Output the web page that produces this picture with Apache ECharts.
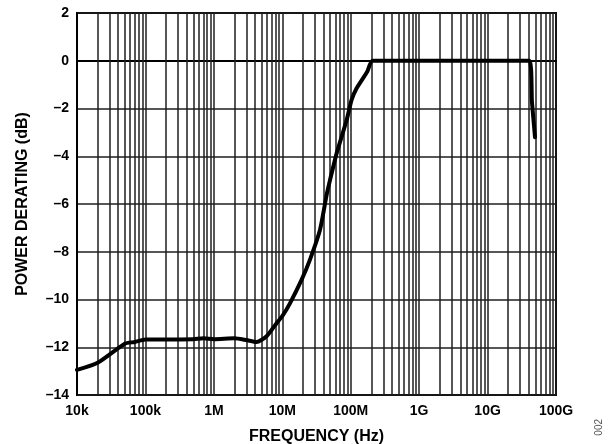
<!DOCTYPE html>
<html>
<head>
<meta charset="utf-8">
<script src="https://cdn.jsdelivr.net/npm/echarts@6/dist/echarts.min.js"></script>
<style>
  html, body { margin: 0; padding: 0; background: #fff; }
  #chart { width: 608px; height: 444px; }
</style>
</head>
<body>
<div id="chart"></div>
<script>
// Power derating versus frequency
const frequencyHz = [
  1e4, 2e4, 5e4, 7e4, 1e5, 2e5, 5e5, 7e5, 1e6, 2e6, 3e6, 4.2e6, 5.9e6, 8.3e6,
  1e7, 1.3e7, 1.92e7, 2.54e7, 3.56e7, 4.46e7, 4.98e7, 6.24e7, 8.73e7, 1.03e8,
  1.22e8, 1.75e8, 2.09e8, 4.1e10, 4.45e10, 4.6e10, 4.93e10
];
const deratingDb = [
  -12.95, -12.65, -11.85, -11.78, -11.68, -11.68, -11.66, -11.62, -11.66, -11.62, -11.70, -11.78, -11.54, -10.98,
  -10.70, -10.15, -9.17, -8.33, -7.08, -5.60, -5.00, -3.87, -2.48, -1.64,
  -1.15, -0.45, 0, 0, -1.7, -2.2, -3.2
];
const xTickLabels = { 1e4: '10k', 1e5: '100k', 1e6: '1M', 1e7: '10M', 1e8: '100M', 1e9: '1G', 1e10: '10G', 1e11: '100G' };
const decadeStarts = [1e4, 1e5, 1e6, 1e7, 1e8, 1e9, 1e10];
const minorMultipliers = [2, 3, 4, 5, 6, 7, 8, 9];

const gridColor = '#1e1e1e';
const gridWidth = 1.5;
const minorLines = [];
decadeStarts.forEach(d => minorMultipliers.forEach(m => minorLines.push({ xAxis: d * m })));

const fontFamily = 'Liberation Sans, Arial, sans-serif';
const tickFont = { fontFamily, fontWeight: 'bold', fontSize: 14, color: '#000' };
const titleFont = { fontFamily, fontWeight: 'bold', fontSize: 16, color: '#000' };

const chart = echarts.init(document.getElementById('chart'), null, { renderer: 'canvas' });
chart.setOption({
  animation: false,
  backgroundColor: '#fff',
  grid: {
    left: 77, right: 52, top: 13, bottom: 49,
    outerBoundsMode: 'none', containLabel: false,
    show: true, borderColor: '#000', borderWidth: 2, backgroundColor: 'transparent'
  },
  xAxis: {
    type: 'log', logBase: 10, min: 1e4, max: 1e11,
    name: 'FREQUENCY (Hz)', nameLocation: 'middle', nameGap: 34,
    nameTextStyle: titleFont,
    axisLine: { show: true, lineStyle: { color: '#000', width: 2 } },
    axisTick: { show: false },
    axisLabel: Object.assign({ margin: 9, formatter: v => xTickLabels[Math.round(v)] || '' }, tickFont),
    splitLine: { show: true, lineStyle: { color: gridColor, width: gridWidth } }
  },
  yAxis: {
    type: 'value', min: -14, max: 2, interval: 2,
    name: 'POWER DERATING (dB)', nameLocation: 'middle', nameGap: 46,
    nameTextStyle: titleFont,
    axisLine: { show: true, lineStyle: { color: '#000', width: 2 } },
    axisTick: { show: false },
    axisLabel: Object.assign({ margin: 8, formatter: v => (v < 0 ? '\u2013' + Math.abs(v) : String(v)) }, tickFont),
    splitLine: { show: true, lineStyle: { color: gridColor, width: gridWidth } }
  },
  series: [{
    type: 'line',
    data: frequencyHz.map((f, i) => [f, deratingDb[i]]),
    showSymbol: false,
    smooth: 0.2,
    lineStyle: { color: '#000', width: 4, join: 'round', cap: 'round' },
    z: 5,
    markLine: {
      silent: true, symbol: ['none', 'none'], label: { show: false },
      lineStyle: { color: gridColor, width: gridWidth, type: 'solid' },
      data: minorLines, z: 1
    }
  }],
  graphic: [{
    type: 'text', x: 599, y: 419, rotation: Math.PI / 2,
    style: { text: '002', fontFamily, fontSize: 10, fill: '#555', textAlign: 'right', textVerticalAlign: 'middle' }
  }]
});
</script>
</body>
</html>
